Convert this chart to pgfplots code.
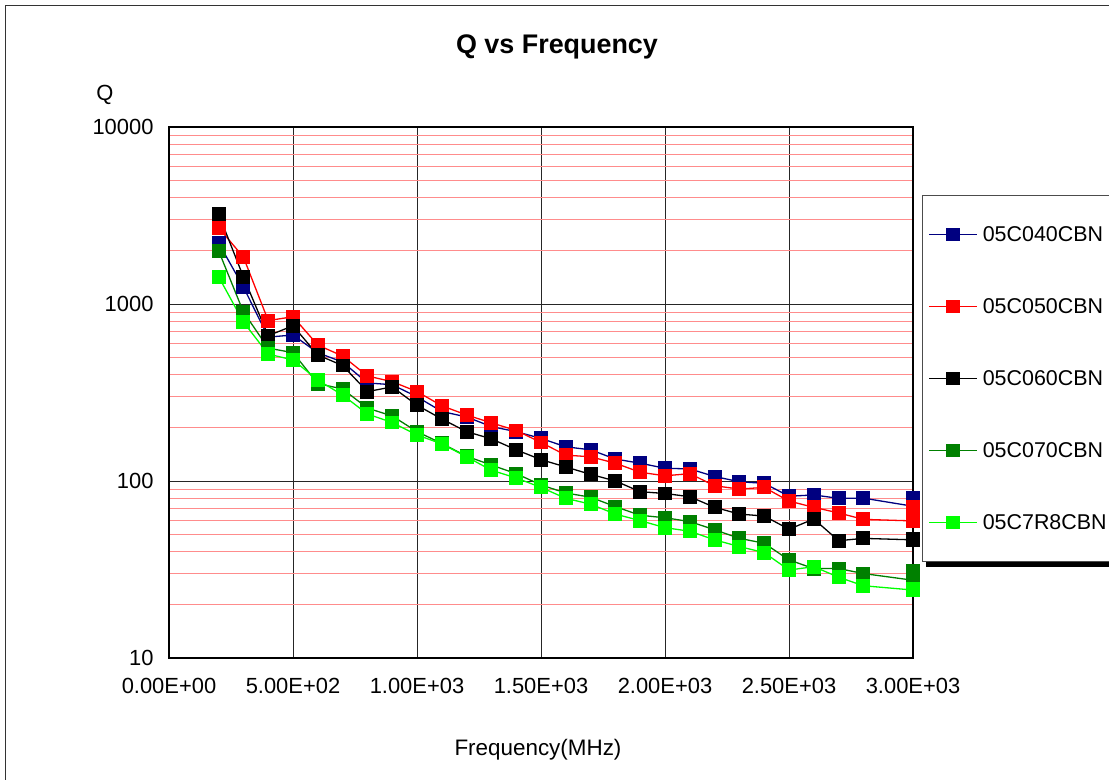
\documentclass[border=0pt]{standalone}
\usepackage{fontspec}
\setmainfont{Liberation Sans}
\usepackage{pgfplots}
\usepackage{pgfplotstable}
\pgfplotsset{compat=1.18}
\definecolor{navyq}{RGB}{0,0,128}
\definecolor{redq}{RGB}{255,0,0}
\definecolor{dgreenq}{RGB}{0,128,0}
\definecolor{lgreenq}{RGB}{0,255,0}
\definecolor{minorred}{RGB}{255,140,140}

% Q values; last x is entered twice in the source
\pgfplotstableread{
f     blue  red   black  dgreen lgreen
200   2213  2700  3224   2000   1427
300   1248  1841  1422   902    791
400   650   806   662    563    521
500   668   847   753    531    483
600   530   586   515    355    372
700   470   508   449    331    306
800   358   392   320    258    239
900   350   364   340    233    214
1000  299   320   268    190    182
1100  247   266   224    163    162
1200  230   236   190    138    137
1300  203   213   173    123    115
1400  190   193   150    110    104
1500  174   165   132    95     92
1600  156   140   120    85.5   79.8
1700  150   137   109    81     74
1800  133   126   100    71.6   65
1900  126   112   87     64     59.7
2000  118   107   85     62     54.5
2100  117   110   81.5   59     52
2200  106   94    71     53     46.5
2300  99    90    65     47.4   42.6
2400  97    92    63.4   44.5   39.4
2500  82    77    53.4   35.8   31.4
2600  83.4  71    61     32     32.8
2700  79.8  66    46     32     28.6
2800  80    60.7  47.4   30     25.6
3000  72    59.5  46.5   27.5   24.2
3000  80    71    47     31     24.5
}\qdata

\begin{document}
\begin{tikzpicture}[x=1bp,y=1bp]
\useasboundingbox (0,0) rectangle (1109,780);
\draw[black!80, line width=1.2bp] (5.5,-10) rectangle (1120,774.5);
\begin{axis}[
  at={(169bp,122bp)}, anchor=south west,
  scale only axis, width=744bp, height=531bp,
  xmin=0, xmax=3000, ymin=10, ymax=10000, ymode=log,
  xtick={0,500,...,3000},
  xticklabels={0.00E+00,5.00E+02,1.00E+03,1.50E+03,2.00E+03,2.50E+03,3.00E+03},
  ytick={10,100,1000,10000}, yticklabels={10,100,1000,10000},
  minor ytick={20,30,...,90,200,300,...,900,2000,3000,...,9000},
  xmajorgrids, ymajorgrids, yminorgrids,
  major grid style={black!85, line width=0.9bp},
  minor grid style={minorred, line width=0.9bp},
  major tick length=0pt, minor tick length=0pt,
  axis line style={black, line width=1.2bp},
  tick label style={font=\fontsize{22}{26}\selectfont},
  xticklabel style={yshift=-17bp},
  yticklabel style={xshift=-12bp},
  every axis plot/.append style={line width=1.3bp, mark=square*, mark size=6.3bp},
  legend image code/.code={\draw[mark repeat=2,mark phase=2] plot coordinates {(0bp,0bp) (24bp,0bp) (48bp,0bp)};},
  legend cell align=left,
  legend style={at={(1.0121,0.8719)}, anchor=north west, draw=black!70, line width=1bp,
    fill=white, inner xsep=6bp, inner ysep=3bp, row sep=0pt,
    font=\fontsize{21.5}{25}\selectfont,
    nodes={minimum height=72bp, inner sep=0pt},
    /tikz/every odd column/.append style={column sep=5bp}},
]
\addplot[color=navyq, mark options={fill=navyq}] table[x=f, y=blue] {\qdata};
\addlegendentry{05C040CBN}
\addplot[color=redq, mark options={fill=redq}] table[x=f, y=red] {\qdata};
\addlegendentry{05C050CBN}
\addplot[color=black, mark options={fill=black}] table[x=f, y=black] {\qdata};
\addlegendentry{05C060CBN}
\addplot[color=dgreenq, mark options={fill=dgreenq}] table[x=f, y=dgreen] {\qdata};
\addlegendentry{05C070CBN}
\addplot[color=lgreenq, mark options={fill=lgreenq}] table[x=f, y=lgreen] {\qdata};
\addlegendentry{05C7R8CBN}
\end{axis}
\fill[black] (926,213) rectangle (1120,218);
\node[font=\bfseries\fontsize{27}{32}\selectfont] at (557,733) {Q vs Frequency};
\node[font=\fontsize{22}{26}\selectfont] at (105,685) {Q};
\node[font=\fontsize{22.5}{27}\selectfont] at (538,30) {Frequency(MHz)};
\end{tikzpicture}
\end{document}
